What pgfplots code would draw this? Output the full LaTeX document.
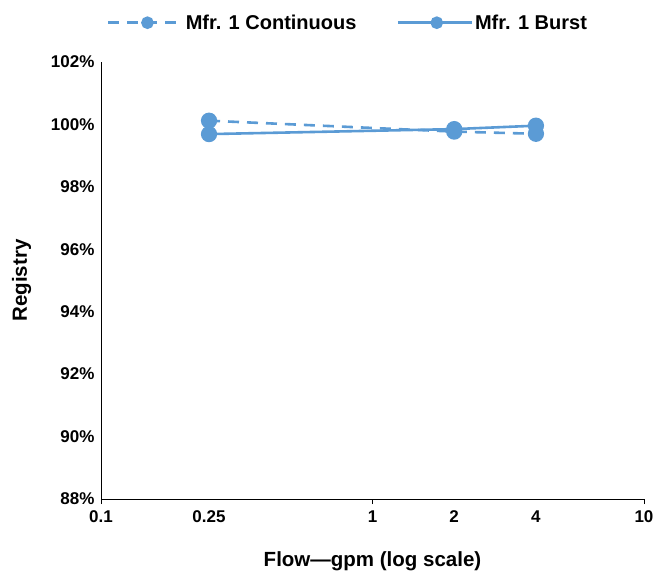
\documentclass[border=0pt]{standalone}
\usepackage{pgfplots}
\pgfplotsset{compat=1.18}
\usepackage{fontspec}
\setmainfont{Liberation Sans}
\definecolor{lblue}{RGB}{91,155,213}
\begin{document}
\begin{tikzpicture}[x=1pt,y=1pt]
\path[use as bounding box] (-101pt,-74pt) rectangle (558pt,499pt);
\begin{axis}[
  at={(0pt,0pt)}, anchor=south west,
  scale only axis, width=543pt, height=437pt,
  xmode=log, xmin=0.1, xmax=10,
  ymin=88, ymax=102,
  axis x line*=bottom, axis y line*=left,
  axis line style={black, line width=0.9pt},
  xtick={0.1,1,10}, xticklabels={0.1,1,10},
  extra x ticks={0.25,2,4}, extra x tick labels={0.25,2,4},
  extra x tick style={tick style={draw=none}},
  x tick style={black, line width=0.9pt},
  major tick length=5pt,
  tick align=outside,
  xminorticks=false,
  ytick={88,90,...,102},
  yticklabel={\pgfmathprintnumber{\tick}\%},
  y tick style={draw=none},
  /pgf/number format/assume math mode=true,
  ticklabel style={font=\fontsize{17}{19}\selectfont\bfseries},
  xticklabel style={yshift=-3pt},
  yticklabel style={xshift=2pt},
  xlabel={Flow—gpm (log scale)},
  ylabel={Registry},
  label style={font=\fontsize{20.5}{22}\selectfont\bfseries},
  xlabel style={yshift=-12pt},
  ylabel style={yshift=13pt},
  clip=false,
  legend style={at={(0.455,1.062)}, anchor=south, draw=none, fill=none, legend columns=2,
    font=\fontsize{20}{22}\selectfont\bfseries,
    /tikz/every even column/.append style={column sep=38pt}},
  legend image code/.code={
    \draw[#1] (-2pt,0pt) -- (72pt,0pt);
    \draw[#1, solid, mark size=5pt] plot coordinates {(37pt,0pt)};
  },
]
\addplot[lblue, line width=2.6pt, dash pattern=on 11pt off 8pt, mark=*, mark size=6.8pt, mark options={solid, fill=lblue, draw=lblue}]
  coordinates {(0.25,100.12) (2,99.77) (4,99.70)};
\addlegendentry{Mfr. 1 Continuous}
\addplot[lblue, line width=2.6pt, mark=*, mark size=6.8pt, mark options={solid, fill=lblue, draw=lblue}]
  coordinates {(0.25,99.69) (2,99.85) (4,99.96)};
\addlegendentry{Mfr. 1 Burst}
\end{axis}
\end{tikzpicture}
\end{document}
